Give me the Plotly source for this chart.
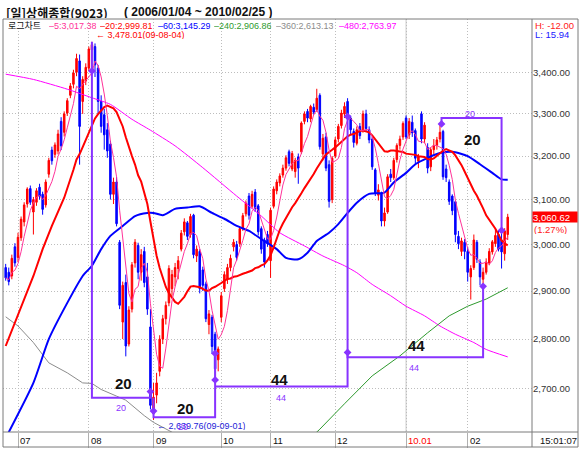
import numpy as np
import pandas as pd
import plotly.graph_objects as go

# ---------------- data (daily candles, late Jun 2009 .. 25 Feb 2010) ----------------
opens = [
    2950, 2940, 2932, 2995,
    2972, 3015, 3050, 3090, 3125, 3072, 3094, 3128, 3112, 3088, 3158, 3214, 3204, 3212, 3282, 3256, 3302, 3345, 3372, 3402, 3430, 3330, 3380,
    3412, 3458, 3466, 3412, 3330, 3298, 3262, 3228, 3112, 3140, 3005, 2835, 2918, 2790, 2862, 2960, 2998, 2940, 2985, 2930, 2825,
    2652, 2688, 2735, 2800, 2842, 2875, 2905, 2930, 2948, 2990, 3028, 3048, 3022, 3065, 2975, 2985, 2945, 2915, 2830, 2845, 2810, 2758,
    2845, 2905, 2925, 2950, 2995, 3000, 3002, 3035, 3068, 3108, 3085, 3117, 3086, 3035, 3010, 3022,
    2965, 3085, 3120, 3138, 3156, 3172, 3210, 3170, 3164, 3198, 3210, 3282, 3306, 3288, 3316, 3310, 3345, 3205, 3245, 3180, 3100,
    3200, 3240, 3272, 3300, 3330, 3290, 3258, 3230, 3270, 3262, 3300, 3262, 3240, 3168, 3110, 3115, 3052, 3072, 3158, 3150, 3192, 3225, 3245,
    3290, 3250, 3280, 3260, 3188, 3300, 3240, 3220, 3175, 3215, 3225, 3240, 3258, 3170, 3140, 3108, 3095, 3018, 2985, 3005,
    2985, 2930, 2950, 3005, 2962, 2925, 2940, 2960, 2984, 3002, 3022, 3010, 2980, 3022,
]
highs = [
    2958, 2950, 2978, 3003,
    3026, 3062, 3094, 3128, 3132, 3106, 3126, 3136, 3118, 3146, 3196, 3222, 3232, 3262, 3292, 3306, 3338, 3375, 3408, 3448, 3446, 3392, 3424,
    3466, 3478.01, 3474, 3420, 3345, 3312, 3278, 3236, 3150, 3152, 3010, 2920, 2935, 2868, 2962, 3012, 3004, 2990, 2995, 2960, 2862,
    2712, 2732, 2808, 2850, 2878, 2955, 2945, 2960, 2975, 3032, 3058, 3052, 3068, 3068, 2998, 2990, 2952, 2920, 2860, 2850, 2815, 2785,
    2898, 2942, 2958, 2978, 3012, 3008, 3040, 3070, 3098, 3115, 3120, 3124, 3090, 3040, 3015, 3030,
    3082, 3130, 3146, 3160, 3180, 3202, 3215, 3212, 3196, 3206, 3282, 3306, 3312, 3322, 3325, 3361, 3350, 3252, 3255, 3190, 3200,
    3245, 3276, 3310, 3328, 3338, 3296, 3265, 3270, 3278, 3308, 3310, 3270, 3245, 3172, 3135, 3118, 3082, 3158, 3170, 3196, 3230, 3248, 3282,
    3296, 3290, 3296, 3265, 3205, 3306, 3280, 3230, 3220, 3240, 3245, 3276, 3262, 3180, 3146, 3112, 3098, 3030, 3015, 3012,
    2995, 2955, 3022, 3010, 2968, 2950, 2970, 2992, 3010, 3035, 3030, 3032, 3036, 3068,
]
lows = [
    2922, 2912, 2925, 2952,
    2962, 3008, 3040, 3082, 3088, 3022, 3086, 3100, 3066, 3082, 3150, 3180, 3196, 3204, 3214, 3246, 3295, 3338, 3362, 3392, 3180, 3300, 3370,
    3405, 3405, 3390, 3300, 3255, 3215, 3196, 3100, 3090, 3040, 2862, 2800, 2765, 2785, 2855, 2950, 2925, 2922, 2908, 2850, 2660,
    2639.76, 2672, 2725, 2790, 2830, 2868, 2890, 2910, 2925, 2985, 3020, 3010, 3015, 2970, 2962, 2895, 2900, 2835, 2810, 2770, 2712, 2735,
    2835, 2898, 2915, 2942, 2985, 2965, 2995, 3030, 3062, 3055, 3080, 3072, 3020, 2980, 2950, 2995,
    2928, 3080, 3112, 3130, 3150, 3166, 3176, 3165, 3150, 3136, 3205, 3275, 3280, 3280, 3298, 3305, 3215, 3190, 3165, 3082, 3092,
    3195, 3232, 3265, 3290, 3285, 3250, 3220, 3225, 3240, 3255, 3258, 3230, 3168, 3108, 3098, 3040, 3040, 3068, 3140, 3145, 3185, 3215, 3238,
    3240, 3240, 3245, 3182, 3172, 3230, 3230, 3160, 3165, 3205, 3215, 3232, 3145, 3140, 3088, 3065, 3005, 2990, 2975, 2968,
    2920, 2882, 2945, 2960, 2912, 2908, 2935, 2955, 2978, 2995, 2985, 2948, 2965, 3010,
]
closes = [
    2928, 2920, 2970, 2960,
    3016, 3056, 3088, 3124, 3094, 3100, 3120, 3108, 3078, 3140, 3190, 3189, 3226, 3252, 3224, 3300, 3332, 3368, 3400, 3436, 3270, 3384, 3414,
    3460, 3471, 3420, 3330, 3270, 3250, 3212, 3112, 3140, 3046, 2870, 2912, 2786, 2860, 2956, 3005, 2940, 2978, 2918, 2862, 2668,
    2684, 2712, 2800, 2842, 2870, 2948, 2935, 2950, 2965, 3025, 3050, 3018, 3062, 2978, 2990, 2905, 2912, 2842, 2852, 2785, 2740, 2780,
    2890, 2935, 2950, 2970, 3005, 2972, 3035, 3064, 3092, 3065, 3112, 3080, 3028, 2990, 2962, 3002,
    3076, 3124, 3140, 3154, 3172, 3196, 3183, 3206, 3190, 3172, 3278, 3300, 3290, 3318, 3304, 3338, 3222, 3242, 3172, 3096, 3195,
    3238, 3270, 3302, 3318, 3295, 3262, 3232, 3262, 3248, 3300, 3265, 3238, 3175, 3114, 3122, 3052, 3070, 3152, 3150, 3190, 3225, 3240, 3277,
    3245, 3282, 3255, 3195, 3198, 3240, 3273, 3172, 3215, 3225, 3238, 3256, 3152, 3150, 3096, 3075, 3022, 3002, 3008, 2985,
    2940, 2948, 3010, 2968, 2930, 2940, 2962, 2985, 3006, 3020, 2990, 2984, 3030, 3060.62,
]
n_days = len(closes)
day_idx = list(range(n_days))

month_start_idx = [4, 27, 48, 70, 86, 107, 130, 150]
month_labels = ["07", "08", "09", "10", "11", "12", "10.01", "02"]

price_ticks = [2700, 2800, 2900, 3000, 3100, 3200, 3300, 3400]
price_tick_labels = ["2,700.00", "2,800.00", "2,900.00", "3,000.00", "3,100.00", "3,200.00", "3,300.00", "3,400.00"]

ma20_head_idx = [0, 5, 9, 12, 15]
ma20_head_val = [2786, 2865, 2932, 2990, 3041]
ma60_idx = [0, 9, 14, 20, 25, 28, 31, 34, 38, 42, 46, 48, 51, 55, 59, 63, 67, 71, 75, 79, 83, 88, 91, 95, 98,
            101, 105, 108, 111, 114, 118, 123, 126, 130, 133, 137, 141, 145, 150, 154, 158, 161, 163]
ma60_val = [2605, 2712, 2800, 2875, 2932, 2954, 2990, 3019, 3041, 3063, 3070, 3070, 3065, 3079, 3082, 3085, 3070,
            3057, 3041, 3030, 3012, 2990, 2971, 2968, 2982, 3008, 3026, 3045, 3070, 3093, 3113, 3116, 3139, 3161,
            3181, 3196, 3207, 3210, 3200, 3181, 3161, 3146, 3145.29]
ma240_idx = [100, 102, 110, 119, 128, 137, 144, 150, 156, 163]
ma240_val = [2611, 2622, 2671, 2726, 2766, 2813, 2848, 2868, 2883, 2906.86]
ma360_idx = [0, 4, 9, 14, 20, 25, 28, 31, 36, 39, 41, 45, 48, 52, 56]
ma360_val = [2846, 2827, 2793, 2752, 2732, 2712, 2711, 2699, 2686, 2678, 2668, 2648, 2635, 2622, 2610]
ma480_idx = [0, 9, 20, 28, 34, 41, 47, 55, 64, 75, 83, 89, 97, 103, 110, 114, 119, 125, 130, 136, 141, 146, 152, 156, 163]
ma480_val = [3397, 3384, 3360, 3339, 3323, 3287, 3261, 3224, 3173, 3108, 3063, 3026, 2997, 2975, 2954, 2939, 2914,
             2890, 2868, 2848, 2827, 2810, 2793, 2779, 2763.97]

legend_periods = ["5", "20", "60", "240", "360", "480"]
legend_values = ["3,017.38", "2,999.81", "3,145.29", "2,906.86", "2,613.13", "2,763.97"]

# bar-count annotations (day index, price)
count_paths_x = [[28, 28, 47, 47], [48, 48, 68, 68], [68, 111, 111], [111, 111, 155, 155], [141.5, 141.5, 161, 161]]
count_paths_y = [[3478.01, 2683, 2683, 2695], [2683, 2645, 2645, 2771], [2705, 2705, 3294],
                 [2773, 2763, 2763, 2910], [3276, 3290, 3290, 3031]]
count_mark_x = [28, 47, 48, 68, 68, 111, 111, 155, 141.5, 161]
count_mark_y = [3405, 2695, 2657, 2718, 2771, 3294, 2773, 2910, 3276, 3031]
count_big_text = ["20", "20", "44", "44", "20"]
count_big_x = [38.2, 58.5, 89, 133.4, 151.5]
count_big_y = [2711, 2662, 2719, 2788, 3240]
count_small_text = ["20", "20", "44", "44", "20"]
count_small_x = [37.4, 57.7, 89.4, 132.7, 150.8]
count_small_y = [2662, 2626, 2683, 2741, 3300]

# ---------------- styling ----------------
C5, C20, C60, C240, C360, C480 = "#FF3399", "#FF0000", "#0000FF", "#2E9A2E", "#8C8C8C", "#FF00FF"
MA_COLORS = [C5, C20, C60, C240, C360, C480]
PURPLE = "#8833FF"
NUM_FONT = "Liberation Sans, Arial, sans-serif"
NARROW_FONT = "Liberation Sans Narrow, Liberation Sans, Arial, sans-serif"
KR_FONT = "Noto Sans CJK KR, sans-serif"

X_RANGE = [-0.87, 170.88]
Y_RANGE = [np.log10(2616.6), np.log10(3536.5)]
PLOT_L, PLOT_R, PLOT_T, PLOT_B = 3, 532, 19, 432
W, H = 580, 454


def px_x(px):
    return (px - PLOT_L) / (PLOT_R - PLOT_L)


def px_y(py):
    return (PLOT_B - py) / (PLOT_B - PLOT_T)


fig = go.Figure()

fig.add_trace(go.Candlestick(
    x=day_idx, open=opens, high=highs, low=lows, close=closes,
    increasing=dict(line=dict(color="#FF0000", width=1), fillcolor="#FF0000"),
    decreasing=dict(line=dict(color="#0000FF", width=1), fillcolor="#0000FF"),
    whiskerwidth=0, hoverinfo="skip", name="",
))

s = pd.Series(closes, dtype=float)
ma5 = s.rolling(5, min_periods=1).mean()
ma20 = s.rolling(20).mean()

fig.add_trace(go.Scatter(x=ma360_idx, y=ma360_val, mode="lines", line=dict(color=C360, width=1)))
fig.add_trace(go.Scatter(x=ma480_idx, y=ma480_val, mode="lines", line=dict(color=C480, width=1, shape="spline", smoothing=0.6)))
fig.add_trace(go.Scatter(x=ma240_idx, y=ma240_val, mode="lines", line=dict(color=C240, width=1)))
fig.add_trace(go.Scatter(x=ma60_idx, y=ma60_val, mode="lines", line=dict(color=C60, width=2, shape="spline", smoothing=0.6)))
fig.add_trace(go.Scatter(x=ma20_head_idx + day_idx[19:], y=ma20_head_val + list(ma20[19:]), mode="lines",
                         line=dict(color=C20, width=2)))
fig.add_trace(go.Scatter(x=day_idx, y=list(ma5), mode="lines", line=dict(color=C5, width=1)))

for xs, ys in zip(count_paths_x, count_paths_y):
    fig.add_trace(go.Scatter(x=xs, y=ys, mode="lines", line=dict(color=PURPLE, width=2)))
fig.add_trace(go.Scatter(x=count_mark_x, y=count_mark_y, mode="markers",
                         marker=dict(symbol="diamond", size=6, color=PURPLE)))

annotations = []
# header
annotations.append(dict(text="<b>[일]상해종합(9023)</b>", x=px_x(5), y=px_y(12.5), xref="paper", yref="paper",
                        xanchor="left", yanchor="middle", showarrow=False, borderpad=0, height=12,
                        font=dict(family=KR_FONT, size=12, color="#111")))
annotations.append(dict(text="<b>( 2006/01/04 ~ 2010/02/25 )</b>", x=px_x(123), y=px_y(12.5), xref="paper", yref="paper",
                        xanchor="left", yanchor="middle", showarrow=False, borderpad=0, height=12,
                        font=dict(family=NUM_FONT, size=12, color="#111")))
# legend row
annotations.append(dict(text="로그차트", x=px_x(7), y=px_y(25), xref="paper", yref="paper", xanchor="left",
                        yanchor="middle", showarrow=False, borderpad=0, height=10,
                        font=dict(family=KR_FONT, size=9, color="#111")))
legend_px = [47.7, 99.3, 156.7, 213.3, 275.3, 337.7]
for p, v, c, lx in zip(legend_periods, legend_values, MA_COLORS, legend_px):
    annotations.append(dict(text=f"–{p}:{v}", x=px_x(lx), y=px_y(25), xref="paper", yref="paper",
                            xanchor="left", yanchor="middle", showarrow=False, borderpad=0, height=9,
                            font=dict(family=NARROW_FONT, size=9, color=c)))
annotations.append(dict(text="H: -12.00", x=px_x(533.5), y=px_y(25), xref="paper", yref="paper", xanchor="left",
                        yanchor="middle", showarrow=False, borderpad=0, height=8,
                        font=dict(family=NARROW_FONT, size=9.5, color="#FF2020")))
annotations.append(dict(text="L: 15.94", x=px_x(533.5), y=px_y(34.5), xref="paper", yref="paper", xanchor="left",
                        yanchor="middle", showarrow=False, borderpad=0, height=8,
                        font=dict(family=NARROW_FONT, size=9.5, color="#2020FF")))
# high / low labels
annotations.append(dict(text="← 3,478.01(09-08-04)", x=28, y=np.log10(3478.01), xref="x", yref="y",
                        xanchor="left", yanchor="middle", xshift=3, yshift=6.5, showarrow=False, borderpad=0, height=8,
                        font=dict(family=NARROW_FONT, size=9, color="#FF0000")))
annotations.append(dict(text="← 2,639.76(09-09-01)", x=48, y=np.log10(2639.76), xref="x", yref="y",
                        xanchor="left", yanchor="middle", xshift=2, yshift=-6, showarrow=False, borderpad=0, height=9,
                        font=dict(family=NARROW_FONT, size=9, color="#2424D8")))
# bar counts
for t, x, y in zip(count_big_text, count_big_x, count_big_y):
    annotations.append(dict(text=f"<b>{t}</b>", x=x, y=np.log10(y), xref="x", yref="y", showarrow=False,
                            font=dict(family=NUM_FONT, size=15, color="#111")))
for t, x, y in zip(count_small_text, count_small_x, count_small_y):
    annotations.append(dict(text=t, x=x, y=np.log10(y), xref="x", yref="y", showarrow=False, borderpad=0, height=8,
                            font=dict(family=NARROW_FONT, size=9, color=PURPLE)))
# last price tag
annotations.append(dict(text="3,060.62", x=1, y=np.log10(closes[-1]), xref="paper", yref="y", xanchor="left",
                        yanchor="middle", showarrow=False, bgcolor="#FF0000", borderpad=0, width=44, height=10,
                        align="left", font=dict(family=NARROW_FONT, size=9.5, color="white")))
annotations.append(dict(text="(1.27%)", x=1, y=np.log10(closes[-1]), xref="paper", yref="y", xanchor="left",
                        yanchor="middle", xshift=1, yshift=-12, showarrow=False, borderpad=0, height=10,
                        font=dict(family=NARROW_FONT, size=9.5, color="#FF2020")))
# month labels
for mi, ml in zip(month_start_idx, month_labels):
    annotations.append(dict(text=ml, x=mi, y=px_y(440), xref="x", yref="paper", xanchor="left", yanchor="middle",
                            xshift=1, showarrow=False, borderpad=0,
                            font=dict(family=NARROW_FONT, size=9.5, color="#FF0000" if ml == "10.01" else "#111")))
annotations.append(dict(text="15:01:07", x=px_x(539), y=px_y(440), xref="paper", yref="paper", xanchor="left",
                        yanchor="middle", showarrow=False, borderpad=0,
                        font=dict(family=NARROW_FONT, size=9.5, color="#111")))

shapes = [
    # outer frame
    dict(type="rect", xref="paper", yref="paper", x0=0, x1=px_x(578), y0=px_y(447), y1=1,
         line=dict(color="#7a7a7a", width=1)),
    # right panel divider
    dict(type="line", xref="paper", yref="paper", x0=1, x1=1, y0=px_y(447), y1=1, line=dict(color="#7a7a7a", width=1)),
    # axis bar top line
    dict(type="line", xref="paper", yref="paper", x0=0, x1=px_x(578), y0=0, y1=0, line=dict(color="#7a7a7a", width=1)),
    # January (new year) solid grid line
    dict(type="line", xref="x", yref="paper", x0=130, x1=130, y0=0, y1=1, line=dict(color="#c8c8c8", width=1),
         layer="below"),
]

fig.update_layout(
    width=W, height=H,
    margin=dict(l=PLOT_L, r=W - PLOT_R, t=PLOT_T, b=H - PLOT_B, pad=0),
    paper_bgcolor="white", plot_bgcolor="white", showlegend=False,
    annotations=annotations, shapes=shapes,
    xaxis=dict(range=X_RANGE, tickvals=month_start_idx, showticklabels=False, ticks="outside", ticklen=15,
               tickcolor="#b0b0b0", showgrid=True, gridcolor="#bdbdbd", griddash="1px,2px", zeroline=False,
               showline=False, rangeslider=dict(visible=False), fixedrange=True),
    yaxis=dict(type="log", range=Y_RANGE, side="right", tickvals=price_ticks, ticktext=price_tick_labels,
               ticks="", showgrid=True, gridcolor="#bdbdbd", griddash="1px,2px", zeroline=False, showline=False,
               tickfont=dict(family=NUM_FONT, size=9.5, color="#333"), fixedrange=True),
)

fig.write_html("out.html", config={"displayModeBar": False},
               post_script="document.body.style.margin='0px';document.body.style.padding='0px';")
